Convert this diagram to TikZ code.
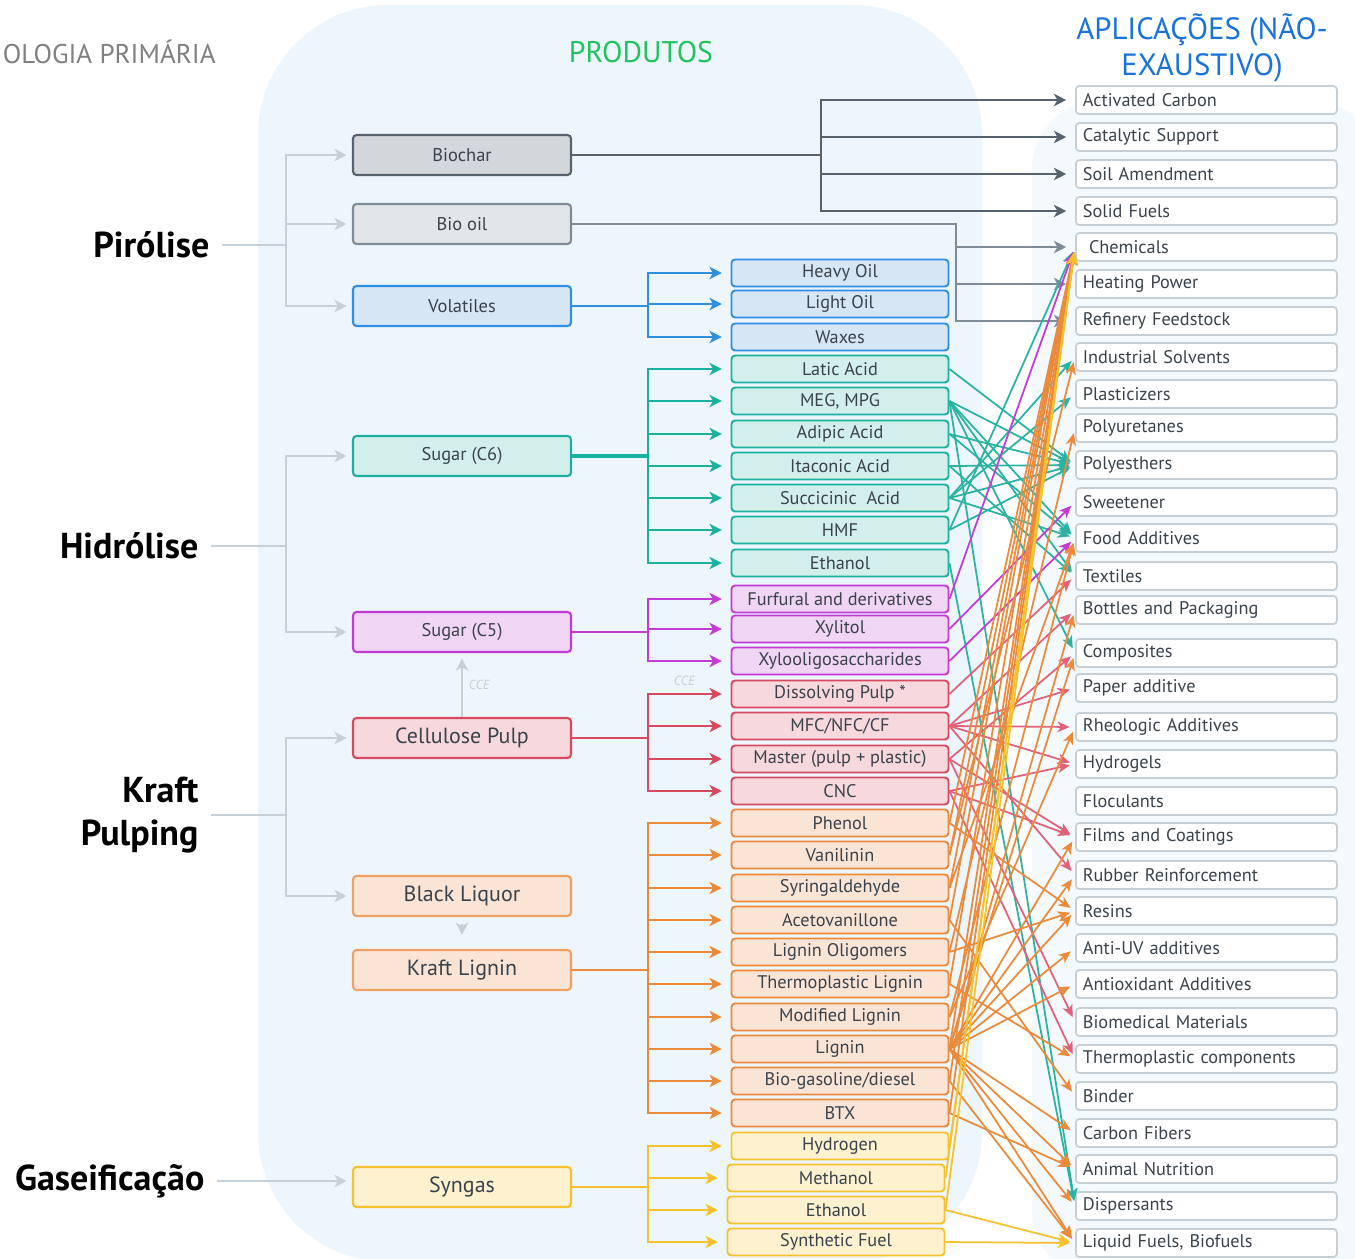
\documentclass[tikz,border=0pt]{standalone}
\usepackage{fontspec}
\setmainfont{PT Sans}
\usetikzlibrary{arrows.meta,positioning,calc}

\definecolor{txtGray}{HTML}{3A434C}
\definecolor{panelBlue}{HTML}{EEF6FD}
\definecolor{panelRight}{HTML}{F4F9FD}
\definecolor{connGray}{HTML}{C6D0D8}
\definecolor{charLn}{HTML}{56636E}
\definecolor{charFill}{HTML}{D3D7DB}
\definecolor{oilLn}{HTML}{7F8B97}
\definecolor{oilFill}{HTML}{E3E6E8}
\definecolor{blueLn}{HTML}{2F8FE0}
\definecolor{blueFill}{HTML}{D6E6F5}
\definecolor{tealLn}{HTML}{1AB19F}
\definecolor{tealFill}{HTML}{D3EFEC}
\definecolor{tealX}{HTML}{2AB3A2}
\definecolor{magLn}{HTML}{C23BD4}
\definecolor{magFill}{HTML}{F1D5F4}
\definecolor{redLn}{HTML}{D7495C}
\definecolor{redFill}{HTML}{F7D9DD}
\definecolor{redX}{HTML}{E0627A}
\definecolor{oraLn}{HTML}{EA8A3B}
\definecolor{oraFill}{HTML}{FAE4D6}
\definecolor{yelLn}{HTML}{F5C22D}
\definecolor{yelFill}{HTML}{FDF1D0}
\definecolor{appBorder}{HTML}{C7CFD6}
\definecolor{titleGreen}{HTML}{22C35E}
\definecolor{titleBlue}{HTML}{1A73D9}

\begin{document}
\begin{tikzpicture}[x=0.02cm,y=-0.02cm,
    stage/.style={font=\fontsize{20.5}{24}\selectfont\bfseries,inner sep=7pt,align=right},
    primBox/.style={draw,rounded corners=2pt,line width=1.2pt,minimum width=4.36cm,minimum height=0.8cm,text=txtGray,font=\fontsize{10.5}{12}\selectfont},
    bigBox/.style={primBox,font=\fontsize{12.5}{14}\selectfont},
    prodBox/.style={draw,rounded corners=2pt,line width=1.1pt,minimum width=4.34cm,minimum height=0.54cm,inner sep=0pt,text=txtGray,font=\fontsize{10.4}{11}\selectfont},
    appBox/.style={draw=appBorder,fill=white,rounded corners=2pt,line width=1pt,anchor=west,minimum height=0.56cm,inner xsep=4pt,inner ysep=0pt,text width=4.94cm,align=left,text=txtGray,font=\fontsize{10.4}{11}\selectfont},
    grayArr/.style={draw=connGray,line width=1.2pt,-{Stealth[length=7pt,width=7pt,inset=2pt]},shorten >=3pt},
    branch/.style={line width=1.2pt,-{Stealth[length=7pt,width=7pt,inset=2pt]},shorten >=5pt},
    cross/.style={line width=1pt,-{Stealth[length=7pt,width=6pt,inset=2pt]},shorten >=3pt}]

        % Canvas and background panels
        \clip (0,0) rectangle (1355,1258);
        \fill[white] (0,0) rectangle (1355,1258);
        \fill[panelBlue,rounded corners=2.6cm] (258,5) rectangle (982,1262);
        \fill[panelRight,rounded corners=1.4cm] (1032,100) rectangle (1380,1280);

        % Column titles
        \node[text=gray,font=\fontsize{15.4}{18}\selectfont,anchor=east,inner sep=0pt] (titlePrim) at (216,52) {OLOGIA PRIMÁRIA};
        \node[text=titleGreen,font=\fontsize{17}{20}\selectfont] (titleProd) at (641,52) {PRODUTOS};
        \node[text=titleBlue,font=\fontsize{17.5}{20}\selectfont,align=center] (titleApp) at (1202,48) {APLICAÇÕES (NÃO-\\EXAUSTIVO)};

        % Primary technologies
        \node[stage,anchor=east] (pirolise) at (222,245) {Pirólise};
        \node[stage,anchor=east] (hidrolise) at (211,546) {Hidrólise};
        \node[stage,anchor=east] (kraft) at (211,815) {Kraft\\Pulping};
        \node[stage,anchor=east] (gaseif) at (217,1181) {Gaseificação};

        % Primary products
        \node[primBox,draw=charLn,fill=charFill] (biochar) at (462,155) {Biochar};
        \node[primBox,draw=oilLn,fill=oilFill] (bioOil) at (462,224) {Bio oil};
        \node[primBox,draw=blueLn,fill=blueFill] (volatiles) at (462,306) {Volatiles};
        \node[primBox,draw=tealLn,fill=tealFill] (sugarC6) at (462,456) {Sugar (C6)};
        \node[primBox,draw=magLn,fill=magFill] (sugarC5) at (462,632) {Sugar (C5)};
        \node[bigBox,draw=redLn,fill=redFill] (cellPulp) at (462,738) {Cellulose Pulp};
        \node[bigBox,draw=oraLn!80,fill=oraFill] (blackLiquor) at (462,896) {Black Liquor};
        \node[bigBox,draw=oraLn!80,fill=oraFill] (kraftLignin) at (462,970) {Kraft Lignin};
        \node[bigBox,draw=yelLn,fill=yelFill] (syngas) at (462,1187) {Syngas};

        % Derived products
        \node[prodBox,draw=blueLn,fill=blueFill] (heavyOil) at (840,273) {Heavy Oil};
        \node[prodBox,draw=blueLn,fill=blueFill] (lightOil) at (840,304) {Light Oil};
        \node[prodBox,draw=blueLn,fill=blueFill] (waxes) at (840,337) {Waxes};
        \node[prodBox,draw=tealLn,fill=tealFill] (laticAcid) at (840,369) {Latic Acid};
        \node[prodBox,draw=tealLn,fill=tealFill] (megMpg) at (840,401) {MEG, MPG};
        \node[prodBox,draw=tealLn,fill=tealFill] (adipicAcid) at (840,434) {Adipic Acid};
        \node[prodBox,draw=tealLn,fill=tealFill] (itaconicAcid) at (840,466) {Itaconic Acid};
        \node[prodBox,draw=tealLn,fill=tealFill] (succinicAcid) at (840,498) {Succicinic\ \ Acid};
        \node[prodBox,draw=tealLn,fill=tealFill] (hmf) at (840,530) {HMF};
        \node[prodBox,draw=tealLn,fill=tealFill] (ethanolA) at (840,563) {Ethanol};
        \node[prodBox,draw=magLn,fill=magFill] (furfural) at (840,599) {Furfural and derivatives};
        \node[prodBox,draw=magLn,fill=magFill] (xylitol) at (840,629) {Xylitol};
        \node[prodBox,draw=magLn,fill=magFill] (xylooligo) at (840,661) {Xylooligosaccharides};
        \node[prodBox,draw=redLn,fill=redFill] (dissPulp) at (840,694) {Dissolving Pulp *};
        \node[prodBox,draw=redLn,fill=redFill] (mfc) at (840,726) {MFC/NFC/CF};
        \node[prodBox,draw=redLn,fill=redFill] (master) at (840,759) {Master (pulp + plastic)};
        \node[prodBox,draw=redLn,fill=redFill] (cnc) at (840,791) {CNC};
        \node[prodBox,draw=oraLn,fill=oraFill] (phenol) at (840,823) {Phenol};
        \node[prodBox,draw=oraLn,fill=oraFill] (vanilinin) at (840,855) {Vanilinin};
        \node[prodBox,draw=oraLn,fill=oraFill] (syringal) at (840,888) {Syringaldehyde};
        \node[prodBox,draw=oraLn,fill=oraFill] (acetovan) at (840,920) {Acetovanillone};
        \node[prodBox,draw=oraLn,fill=oraFill] (ligOligo) at (840,952) {Lignin Oligomers};
        \node[prodBox,draw=oraLn,fill=oraFill] (thermoLig) at (840,984) {Thermoplastic Lignin};
        \node[prodBox,draw=oraLn,fill=oraFill] (modLig) at (840,1017) {Modified Lignin};
        \node[prodBox,draw=oraLn,fill=oraFill] (lignin) at (840,1049) {Lignin};
        \node[prodBox,draw=oraLn,fill=oraFill] (bioGasoline) at (840,1081) {Bio-gasoline/diesel};
        \node[prodBox,draw=oraLn,fill=oraFill] (btx) at (840,1113) {BTX};
        \node[prodBox,draw=yelLn,fill=yelFill] (hydrogen) at (840,1146) {Hydrogen};
        \node[prodBox,draw=yelLn,fill=yelFill] (methanol) at (836,1178) {Methanol};
        \node[prodBox,draw=yelLn,fill=yelFill] (ethanolB) at (836,1210) {Ethanol};
        \node[prodBox,draw=yelLn,fill=yelFill] (synFuel) at (836,1242) {Synthetic Fuel};

        % Applications
        \node[appBox] (actCarbon) at (1075,100) {Activated Carbon};
        \node[appBox] (catSupport) at (1075,137) {Catalytic Support};
        \node[appBox] (soilAmend) at (1075,174) {Soil Amendment};
        \node[appBox] (solidFuels) at (1075,211) {Solid Fuels};
        \node[appBox] (chemicals) at (1075,247) {\ Chemicals};
        \node[appBox] (heatPower) at (1075,284) {Heating Power};
        \node[appBox] (refinery) at (1075,321) {Refinery Feedstock};
        \node[appBox] (indSolvents) at (1075,357) {Industrial Solvents};
        \node[appBox] (plasticizers) at (1075,394) {Plasticizers};
        \node[appBox] (polyuretanes) at (1075,428) {Polyuretanes};
        \node[appBox] (polyesthers) at (1075,465) {Polyesthers};
        \node[appBox] (sweetener) at (1075,502) {Sweetener};
        \node[appBox] (foodAdd) at (1075,538) {Food Additives};
        \node[appBox] (textiles) at (1075,576) {Textiles};
        \node[appBox] (bottles) at (1075,610) {Bottles and Packaging};
        \node[appBox] (composites) at (1075,653) {Composites};
        \node[appBox] (paperAdd) at (1075,688) {Paper additive};
        \node[appBox] (rheologic) at (1075,727) {Rheologic Additives};
        \node[appBox] (hydrogels) at (1075,764) {Hydrogels};
        \node[appBox] (floculants) at (1075,801) {Floculants};
        \node[appBox] (films) at (1075,837) {Films and Coatings};
        \node[appBox] (rubber) at (1075,875) {Rubber Reinforcement};
        \node[appBox] (resins) at (1075,911) {Resins};
        \node[appBox] (antiUV) at (1075,948) {Anti-UV additives};
        \node[appBox] (antiox) at (1075,984) {Antioxidant Additives};
        \node[appBox] (biomed) at (1075,1022) {Biomedical Materials};
        \node[appBox] (thermoComp) at (1075,1059) {Thermoplastic components};
        \node[appBox] (binder) at (1075,1096) {Binder};
        \node[appBox] (carbonFib) at (1075,1133) {Carbon Fibers};
        \node[appBox] (animalNut) at (1075,1169) {Animal Nutrition};
        \node[appBox] (dispersants) at (1075,1206) {Dispersants};
        \node[appBox] (liquidFuels) at (1075,1243) {Liquid Fuels, Biofuels};

        % Technology to primary product
        \draw[grayArr] (pirolise.east) -- ++(64,0) |- (biochar.west);
        \draw[grayArr] (pirolise.east) -- ++(64,0) |- (bioOil.west);
        \draw[grayArr] (pirolise.east) -- ++(64,0) |- (volatiles.west);
        \draw[grayArr] (hidrolise.east) -- ++(75,0) |- (sugarC6.west);
        \draw[grayArr] (hidrolise.east) -- ++(75,0) |- (sugarC5.west);
        \draw[grayArr] (kraft.east) -- ++(75,0) |- (cellPulp.west);
        \draw[grayArr] (kraft.east) -- ++(75,0) |- (blackLiquor.west);
        \draw[grayArr] (gaseif.east) -- (gaseif.east -| syngas.west);
        \draw[grayArr] (cellPulp.north) -- (sugarC5.south) node[midway,right,text=connGray,font=\fontsize{7.5}{8}\selectfont\itshape] {CCE};
        \draw[grayArr,shorten <=4pt,shorten >=8pt] (blackLiquor.south) -- (kraftLignin.north);

        % Pyrolysis outputs
        \draw[charLn,line width=1.6pt,-{Stealth[length=7pt,width=7pt,inset=2pt]},shorten >=5pt] (biochar.east) -- ++(249,0) |- (actCarbon.west);
        \draw[charLn,line width=1.6pt,-{Stealth[length=7pt,width=7pt,inset=2pt]},shorten >=5pt] (biochar.east) -- ++(249,0) |- (catSupport.west);
        \draw[charLn,line width=1.6pt,-{Stealth[length=7pt,width=7pt,inset=2pt]},shorten >=5pt] (biochar.east) -- ++(249,0) |- (soilAmend.west);
        \draw[charLn,line width=1.6pt,-{Stealth[length=7pt,width=7pt,inset=2pt]},shorten >=5pt] (biochar.east) -- ++(249,0) |- (solidFuels.west);
        \draw[oilLn,line width=1.4pt,-{Stealth[length=7pt,width=7pt,inset=2pt]},shorten >=5pt] (bioOil.east) -- ++(384,0) |- (chemicals.west);
        \draw[oilLn,line width=1.4pt,-{Stealth[length=7pt,width=7pt,inset=2pt]},shorten >=5pt] (bioOil.east) -- ++(384,0) |- (heatPower.west);
        \draw[oilLn,line width=1.4pt,-{Stealth[length=7pt,width=7pt,inset=2pt]},shorten >=5pt] (bioOil.east) -- ++(384,0) |- (refinery.west);
        \draw[branch,blueLn] (volatiles.east) -- ++(76,0) |- (heavyOil.west);
        \draw[branch,blueLn] (volatiles.east) -- ++(76,0) |- (lightOil.west);
        \draw[branch,blueLn] (volatiles.east) -- ++(76,0) |- (waxes.west);

        % Hydrolysis outputs
        \draw[tealLn,line width=2pt] (sugarC6.east) -- ++(76,0);
        \foreach \p in {laticAcid,megMpg,adipicAcid,itaconicAcid,succinicAcid,hmf,ethanolA}
            \draw[branch,tealLn] (sugarC6.east) -- ++(76,0) |- (\p.west);
        \foreach \p in {furfural,xylitol,xylooligo}
            \draw[branch,magLn] (sugarC5.east) -- ++(76,0) |- (\p.west);

        % Kraft pulping outputs
        \draw[branch,redLn] (cellPulp.east) -- ++(76,0) |- node[pos=0.72,above=1pt,text=connGray,font=\fontsize{7.5}{8}\selectfont\itshape] {CCE} (dissPulp.west);
        \foreach \p in {mfc,master,cnc}
            \draw[branch,redLn] (cellPulp.east) -- ++(76,0) |- (\p.west);
        \foreach \p in {phenol,vanilinin,syringal,acetovan,ligOligo,thermoLig,modLig,lignin,bioGasoline,btx}
            \draw[branch,oraLn] (kraftLignin.east) -- ++(76,0) |- (\p.west);

        % Gasification outputs
        \foreach \p in {hydrogen,methanol,ethanolB,synFuel}
            \draw[branch,yelLn] (syngas.east) -- ++(76,0) |- (\p.west);

        % Products to applications
        \draw[cross,tealX] (laticAcid.east) -- (polyesthers.west);
        \draw[cross,tealX] (megMpg.east) -- (polyesthers.west);
        \draw[cross,tealX] (megMpg.east) -- (foodAdd.west);
        \draw[cross,tealX] (megMpg.east) -- (textiles.west);
        \draw[cross,tealX] (megMpg.east) -- (composites.west);
        \draw[cross,tealX] (megMpg.east) -- (dispersants.west);
        \draw[cross,tealX] (adipicAcid.east) -- (polyesthers.west);
        \draw[cross,tealX] (adipicAcid.east) -- (foodAdd.west);
        \draw[cross,tealX] (itaconicAcid.east) -- (polyesthers.west);
        \draw[cross,tealX] (itaconicAcid.east) -- (textiles.west);
        \draw[cross,tealX] (succinicAcid.east) -- (indSolvents.west);
        \draw[cross,tealX] (succinicAcid.east) -- (plasticizers.west);
        \draw[cross,tealX] (succinicAcid.east) -- (polyesthers.west);
        \draw[cross,tealX] (succinicAcid.east) -- (foodAdd.west);
        \draw[cross,tealX] (hmf.east) -- (chemicals.west);
        \draw[cross,tealX] (hmf.east) -- (polyesthers.west);
        \draw[cross,tealX] (ethanolA.east) -- (dispersants.west);

        \draw[cross,magLn] (furfural.east) -- (chemicals.west);
        \draw[cross,magLn] (xylitol.east) -- (sweetener.west);
        \draw[cross,magLn] (xylooligo.east) -- (foodAdd.west);

        \draw[cross,redX] (dissPulp.east) -- (textiles.west);
        \draw[cross,redX] (mfc.east) -- (bottles.west);
        \draw[cross,redX] (mfc.east) -- (paperAdd.west);
        \draw[cross,redX] (mfc.east) -- (rheologic.west);
        \draw[cross,redX] (mfc.east) -- (hydrogels.west);
        \draw[cross,redX] (mfc.east) -- (rubber.west);
        \draw[cross,redX] (master.east) -- (composites.west);
        \draw[cross,redX] (master.east) -- (films.west);
        \draw[cross,redX] (master.east) -- (biomed.west);
        \draw[cross,redX] (cnc.east) -- (hydrogels.west);
        \draw[cross,redX] (cnc.east) -- (films.west);
        \draw[cross,redX] (cnc.east) -- (thermoComp.west);

        \draw[cross,oraLn] (phenol.east) -- (chemicals.west);
        \draw[cross,oraLn] (phenol.east) -- (resins.west);
        \draw[cross,oraLn] (vanilinin.east) -- (chemicals.west);
        \draw[cross,oraLn] (vanilinin.east) -- (indSolvents.west);
        \draw[cross,oraLn] (syringal.east) -- (chemicals.west);
        \draw[cross,oraLn] (syringal.east) -- (foodAdd.west);
        \draw[cross,oraLn] (acetovan.east) -- (chemicals.west);
        \draw[cross,oraLn] (acetovan.east) -- (binder.west);
        \draw[cross,oraLn] (ligOligo.east) -- (polyuretanes.west);
        \draw[cross,oraLn] (ligOligo.east) -- (resins.west);
        \draw[cross,oraLn] (thermoLig.east) -- (chemicals.west);
        \draw[cross,oraLn] (thermoLig.east) -- (thermoComp.west);
        \draw[cross,oraLn] (modLig.east) -- (foodAdd.west);
        \draw[cross,oraLn] (modLig.east) -- (rheologic.west);
        \foreach \a in {chemicals,bottles,composites,films,rubber,resins,antiUV,antiox,carbonFib,animalNut,dispersants,liquidFuels}
            \draw[cross,oraLn] (lignin.east) -- (\a.west);
        \draw[cross,oraLn] (bioGasoline.east) -- (chemicals.west);
        \draw[cross,oraLn] (bioGasoline.east) -- (liquidFuels.west);
        \draw[cross,oraLn] (btx.east) -- (chemicals.west);
        \draw[cross,oraLn] (btx.east) -- (animalNut.west);

        \draw[cross,yelLn] (hydrogen.east) -- (chemicals.west);
        \draw[cross,yelLn] (methanol.east) -- (chemicals.west);
        \draw[cross,yelLn] (ethanolB.east) -- (chemicals.west);
        \draw[cross,yelLn] (ethanolB.east) -- (liquidFuels.west);
        \draw[cross,yelLn] (synFuel.east) -- (liquidFuels.west);

\end{tikzpicture}
\end{document}
